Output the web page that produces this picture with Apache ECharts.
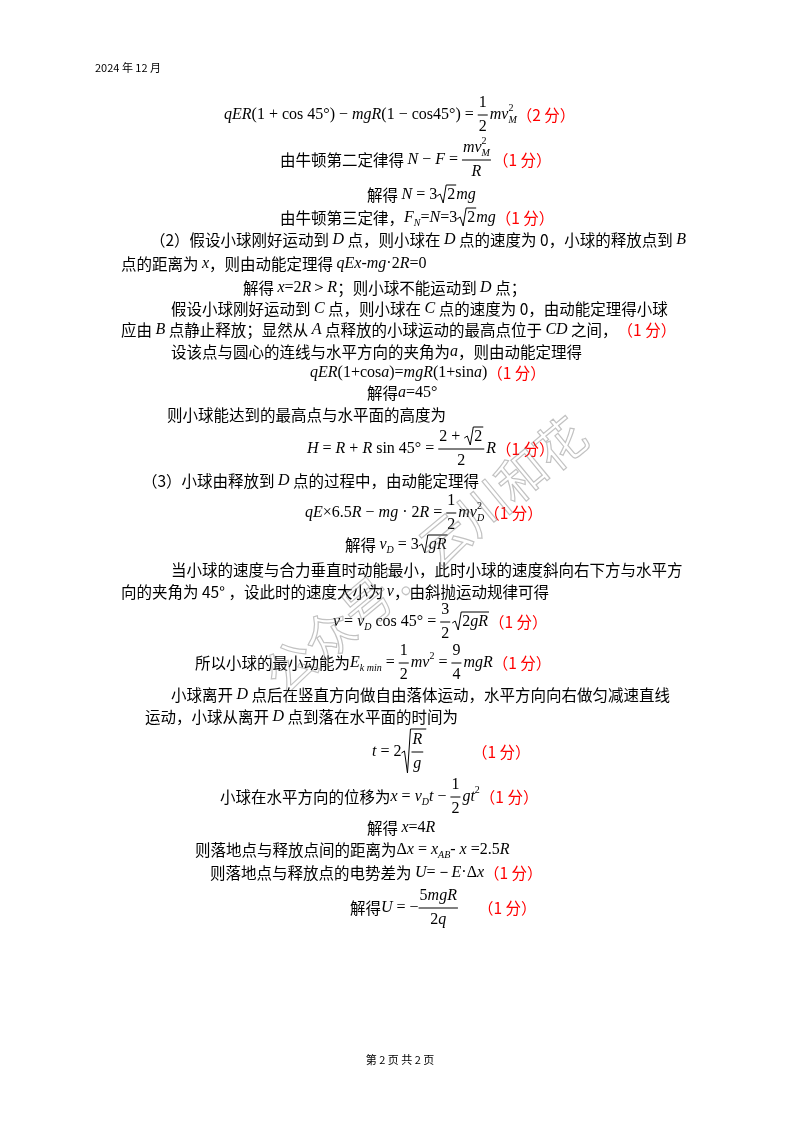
<!DOCTYPE html>
<html><head><meta charset="utf-8">
<script src="https://cdn.jsdelivr.net/npm/echarts@6/dist/echarts.min.js"></script>
<style>html,body{margin:0;background:#fff}#c{width:800px;height:1132px}</style>
</head><body><div id="c"></div>
<script>
// 每行: [x, y, 片段]
// 片段: 字符串=中文; {m}斜体数学; {n}正体; {r,at}红色得分; {sub}/{sup}/{ss}; {fr:[分子,分母]}; {sq:[...]}
const header = '2024 年 12 月';
const footer = '第 2 页 共 2 页';
const watermark = '公众号：云川和花';
const lines = [
  [224, 115, [{m:'qER'},{n:'(1 + cos 45°) − '},{m:'mgR'},{n:'(1 − cos45°) = '},{fr:[[{n:'1'}],[{n:'2'}]]},{m:'mv'},{ss:['M','2']},{r:'（2 分）', at:477}]],
  [280, 160, ['由牛顿第二定律得 ',{m:'N'},{n:' − '},{m:'F'},{n:' = '},{fr:[[{m:'mv'},{ss:['M','2']}],[{m:'R'}]]},{r:'（1 分）', at:478}]],
  [367, 195, ['解得 ',{m:'N'},{n:' = 3'},{sq:[{n:'2'}]},{m:'mg'}]],
  [280, 218, ['由牛顿第三定律，',{m:'F'},{sub:'N'},{n:'='},{m:'N'},{n:'=3'},{sq:[{n:'2'}]},{m:'mg'},{r:'（1 分）', at:478}]],
  [150, 240, ['（2）假设小球刚好运动到 ',{m:'D'},' 点，则小球在 ',{m:'D'},' 点的速度为 0，小球的释放点到 ',{m:'B'}]],
  [121, 264, ['点的距离为 ',{m:'x'},'，则由动能定理得 ',{m:'qEx'},{n:'-'},{m:'mg'},{n:'·2'},{m:'R'},{n:'=0'}]],
  [243, 288, ['解得 ',{m:'x'},{n:'=2'},{m:'R'},{n:'＞'},{m:'R'},'；则小球不能运动到 ',{m:'D'},' 点；']],
  [171, 309, ['假设小球刚好运动到 ',{m:'C'},' 点，则小球在 ',{m:'C'},' 点的速度为 0，由动能定理得小球']],
  [121, 330, ['应由 ',{m:'B'},' 点静止释放；显然从 ',{m:'A'},' 点释放的小球运动的最高点位于 ',{m:'CD'},' 之间，',{r:'（1 分）', at:577}]],
  [171, 352, ['设该点与圆心的连线与水平方向的夹角为',{m:'a'},'，则由动能定理得']],
  [310, 373, [{m:'qER'},{n:'(1+cos'},{m:'a'},{n:')='},{m:'mgR'},{n:'(1+sin'},{m:'a'},{n:')'},{r:'（1 分）', at:470}]],
  [367, 393, ['解得',{m:'a'},{n:'=45°'}]],
  [167, 415, ['则小球能达到的最高点与水平面的高度为']],
  [307, 449, [{m:'H'},{n:' = '},{m:'R'},{n:' + '},{m:'R'},{n:' sin 45° = '},{fr:[[{n:'2 + '},{sq:[{n:'2'}]}],[{n:'2'}]]},{m:'R'},{r:'（1 分）', at:477}]],
  [142, 481, ['（3）小球由释放到 ',{m:'D'},' 点的过程中，由动能定理得']],
  [305, 513, [{m:'qE'},{n:'×6.5'},{m:'R'},{n:' − '},{m:'mg'},{n:' · 2'},{m:'R'},{n:' = '},{fr:[[{n:'1'}],[{n:'2'}]]},{m:'mv'},{ss:['D','2']},{r:'（1 分）', at:472}]],
  [345, 545, ['解得 ',{m:'v'},{sub:'D'},{n:' = 3'},{sq:[{m:'gR'}]}]],
  [171, 570, ['当小球的速度与合力垂直时动能最小，此时小球的速度斜向右下方与水平方']],
  [121, 592, ['向的夹角为 45° ，设此时的速度大小为 ',{m:'v'},'，由斜抛运动规律可得']],
  [333, 622, [{m:'v'},{n:' = '},{m:'v'},{sub:'D'},{n:' cos 45° = '},{fr:[[{n:'3'}],[{n:'2'}]]},{sq:[{n:'2'},{m:'gR'}]},{r:'（1 分）', at:478}]],
  [195, 663, ['所以小球的最小动能为',{m:'E'},{sub:'k min'},{n:' = '},{fr:[[{n:'1'}],[{n:'2'}]]},{m:'mv'},{sup:'2'},{n:' = '},{fr:[[{n:'9'}],[{n:'4'}]]},{m:'mgR'},{r:'（1 分）', at:472}]],
  [171, 695, ['小球离开 ',{m:'D'},' 点后在竖直方向做自由落体运动，水平方向向右做匀减速直线']],
  [145, 717, ['运动，小球从离开 ',{m:'D'},' 点到落在水平面的时间为']],
  [372, 752, [{m:'t'},{n:' = 2'},{sq:[{fr:[[{m:'R'}],[{m:'g'}]]}]},{r:'（1 分）', at:472}]],
  [220, 797, ['小球在水平方向的位移为',{m:'x'},{n:' = '},{m:'v'},{sub:'D'},{m:'t'},{n:' − '},{fr:[[{n:'1'}],[{n:'2'}]]},{m:'gt'},{sup:'2'},{r:'（1 分）', at:472}]],
  [367, 828, ['解得 ',{m:'x'},{n:'=4'},{m:'R'}]],
  [195, 850, ['则落地点与释放点间的距离为',{n:'Δ'},{m:'x'},{n:' = '},{m:'x'},{sub:'AB'},{n:'- '},{m:'x'},{n:' =2.5'},{m:'R'}]],
  [210, 873, ['则落地点与释放点的电势差为 ',{m:'U'},{n:'=－'},{m:'E'},{n:'·Δ'},{m:'x'},{r:'（1 分）', at:475}]],
  [350, 908, ['解得',{m:'U'},{n:' = −'},{fr:[[{n:'5'},{m:'mgR'}],[{n:'2'},{m:'q'}]]},{r:'（1 分）', at:478}]]
];

const CJK = '15.5px "Noto Sans CJK SC"';
const MI = 'italic 16px "Liberation Serif"';
const MN = '16px "Liberation Serif"';
const SM = 'italic 10px "Liberation Serif"';
const SMN = '10px "Liberation Serif"';
const ctx = document.createElement('canvas').getContext('2d');
function tw(t, f) { ctx.font = f; return ctx.measureText(t).width; }

// 排版一行片段, 返回宽度
function lay(segs, x, y, out) {
  let cx = x;
  const txt = (t, f, fill, yy) => {
    out.push({type: 'text', style: {text: t, x: cx, y: yy, font: f, fill: fill || '#000', verticalAlign: 'middle'}});
    cx += tw(t, f);
  };
  segs.forEach(g => {
    if (typeof g === 'string') txt(g, CJK, '#000', y);
    else if (g.m) txt(g.m, MI, null, y);
    else if (g.n) txt(g.n, MN, null, y);
    else if (g.r) { if (g.at && g.at > cx) cx = g.at; txt(g.r, CJK, '#ff0000', y); }
    else if (g.sub) txt(g.sub, SM, null, y + 5);
    else if (g.sup) txt(g.sup, SMN, null, y - 7);
    else if (g.ss) {
      const x0 = cx;
      txt(g.ss[1], SMN, null, y - 7);
      const w1 = cx - x0; cx = x0;
      txt(g.ss[0], SM, null, y + 5);
      cx = Math.max(cx, x0 + w1);
    } else if (g.fr) {
      const nw = lay(g.fr[0], 0, 0, []), dw = lay(g.fr[1], 0, 0, []);
      const w = Math.max(nw, dw) + 2;
      lay(g.fr[0], cx + (w - nw) / 2, y - 12, out);
      lay(g.fr[1], cx + (w - dw) / 2, y + 12, out);
      out.push({type: 'line', shape: {x1: cx, y1: y, x2: cx + w, y2: y}, style: {stroke: '#000', lineWidth: 1}});
      cx += w + 2;
    } else if (g.sq) {
      const hasFr = g.sq.some(q => q.fr);
      const h = hasFr ? 22 : 9;
      const iw = lay(g.sq, cx + 10, y, out);
      out.push({type: 'polyline', shape: {points: [[cx, y + 1], [cx + 3, y - 1], [cx + 6, y + h - 1], [cx + 9, y - h - 1], [cx + 11 + iw, y - h - 1]]},
        style: {stroke: '#000', lineWidth: 1, fill: null}});
      cx += iw + 11;
    }
  });
  return cx - x;
}

const elements = [];
elements.push({type: 'text', style: {text: header, x: 95, y: 68, font: '11px "Noto Sans CJK SC"', fill: '#000', verticalAlign: 'middle'}});
elements.push({type: 'text', style: {text: footer, x: 400, y: 1060, font: '11px "Noto Sans CJK SC"', fill: '#000', align: 'center', verticalAlign: 'middle'}});
lines.forEach(l => lay(l[2], l[0], l[1], elements));
elements.push({type: 'text', x: 425, y: 555, rotation: Math.PI * 0.22, z: 10,
  style: {text: watermark, font: '50px "Noto Sans CJK SC"', fill: 'rgba(0,0,0,0)', stroke: 'rgba(120,120,120,0.45)', lineWidth: 1.2, align: 'center', verticalAlign: 'middle'}});

const chart = echarts.init(document.getElementById('c'));
chart.setOption({backgroundColor: '#fff', graphic: {elements: elements}});
</script>
</body></html>
